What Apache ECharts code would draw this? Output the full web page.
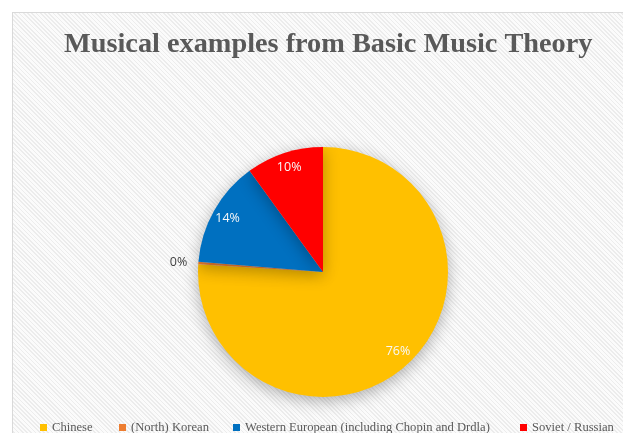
<!DOCTYPE html>
<html>
<head>
<meta charset="utf-8">
<script src="https://cdn.jsdelivr.net/npm/echarts@6/dist/echarts.min.js"></script>
<style>
  html, body { margin: 0; padding: 0; background: #ffffff; overflow: hidden; }
  #frame {
    position: absolute; left: 12px; top: 12px; width: 700px; height: 500px;
    border: 1px solid #d9d9d9; box-sizing: border-box;
    background: repeating-linear-gradient(45deg, #fbfbfb 0px, #fbfbfb 1.8px, #ececec 1.8px, #ececec 3px);
  }
  #chart { position: absolute; left: 0; top: 0; width: 623px; height: 433px; }
</style>
</head>
<body>
<div id="frame"></div>
<div id="chart"></div>
<script>
const titleText = 'Musical examples from Basic Music Theory';
const categories = ['Chinese', '(North) Korean', 'Western European (including Chopin and Drdla)', 'Soviet / Russian'];
const values = [76, 0.3, 13.7, 10];
const colors = ['#FFC000', '#ED7D31', '#0070C0', '#FF0000'];

const legendLefts = [40, 119, 233, 520];

const chart = echarts.init(document.getElementById('chart'), null, { renderer: 'canvas' });

const pieData = categories.map((c, i) => ({ name: c, value: values[i], itemStyle: { color: colors[i] } }));
const labelData = categories.map((c, i) => {
  const d = { name: c, value: values[i] };
  if (values[i] < 1) {
    d.label = { position: 'outside', color: '#404040' };
  }
  return d;
});

const legends = categories.map((c, i) => ({
  left: legendLefts[i],
  top: 421,
  padding: 0,
  orient: 'horizontal',
  itemWidth: 7,
  itemHeight: 7,
  icon: 'rect',
  selectedMode: false,
  textStyle: { fontFamily: 'Liberation Serif', fontSize: 12.6, color: '#595959' },
  data: [{ name: c, itemStyle: { color: colors[i] } }]
}));

chart.setOption({
  animation: false,
  backgroundColor: 'transparent',
  title: {
    text: titleText,
    left: 64,
    top: 31,
    padding: 0,
    textStyle: { fontFamily: 'Liberation Serif', fontWeight: 'bold', fontSize: 28.3, color: '#595959' }
  },
  legend: legends,
  series: [
    {
      type: 'pie',
      center: [323, 272],
      radius: [0, 125],
      startAngle: 90,
      clockwise: true,
      label: { show: false },
      labelLine: { show: false },
      emphasis: { disabled: true },
      itemStyle: { borderWidth: 0, shadowBlur: 16, shadowColor: 'rgba(0,0,0,0.3)', shadowOffsetY: 4 },
      data: pieData
    },
    {
      type: 'pie',
      center: [323, 272],
      radius: [88, 125],
      startAngle: 90,
      clockwise: true,
      silent: true,
      z: 5,
      itemStyle: { color: 'rgba(0,0,0,0)', borderWidth: 0 },
      emphasis: { disabled: true },
      label: {
        show: true,
        position: 'inside',
        formatter: p => Math.round(p.percent) + '%',
        fontFamily: 'Open Sans',
        fontSize: 12.5,
        color: '#f8f8f8'
      },
      labelLine: { show: false, length: 4, length2: 2 },
      data: labelData
    }
  ]
});
</script>
</body>
</html>
